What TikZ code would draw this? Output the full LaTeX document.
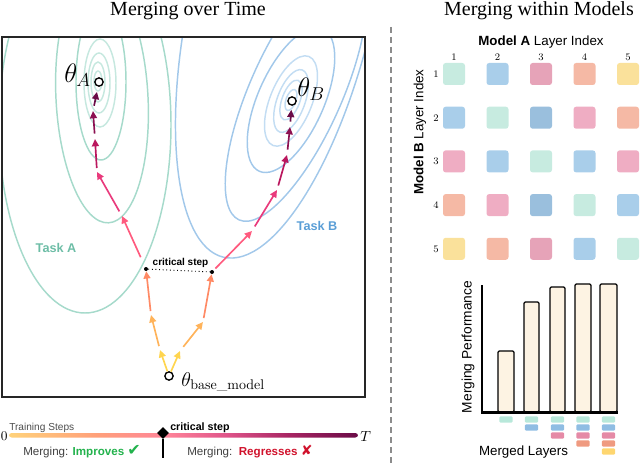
\documentclass[tikz,border=0pt]{standalone}
\usepackage{fix-cm}
\usepackage[dvipsnames]{xcolor}
\usepackage{tikz}
\usetikzlibrary{arrows.meta}
\usetikzlibrary{shapes.geometric}
\usepackage{mathtools}
\usepackage{fontspec}
\newfontfamily\titlefont{Liberation Serif}
\newfontfamily\labelfont{Liberation Sans}
\newfontfamily\symbolfont{DejaVu Sans}

\definecolor{taskA}{HTML}{A6DACB}
\definecolor{taskAlt}{HTML}{C6E8DF}
\definecolor{taskAtxt}{HTML}{6DBDA6}
\definecolor{taskB}{HTML}{A2C8EA}
\definecolor{taskBlt}{HTML}{C3DDF3}
\definecolor{taskBtxt}{HTML}{5A9ED6}
\definecolor{stepI}{HTML}{FFD54F}
\definecolor{stepII}{HTML}{FFB35A}
\definecolor{stepIII}{HTML}{FF8A65}
\definecolor{stepIV}{HTML}{FF5A7E}
\definecolor{stepV}{HTML}{E93A7C}
\definecolor{stepVI}{HTML}{BA175E}
\definecolor{stepVII}{HTML}{8C1051}
\definecolor{stepVIII}{HTML}{6A0B47}
\definecolor{cellTeal}{HTML}{C7EBE0}
\definecolor{cellBlue}{HTML}{A9CEEA}
\definecolor{cellBlueDk}{HTML}{9ABFDD}
\definecolor{cellMauve}{HTML}{E6A3B8}
\definecolor{cellPink}{HTML}{EFADC3}
\definecolor{cellSalmon}{HTML}{F5B9A5}
\definecolor{cellYellow}{HTML}{FAE19B}
\definecolor{legTeal}{HTML}{B8E8DA}
\definecolor{legBlue}{HTML}{8FBDE3}
\definecolor{legMauve}{HTML}{E58AA6}
\definecolor{legSalmon}{HTML}{EF9A80}
\definecolor{legYellow}{HTML}{FED670}
\definecolor{barfill}{HTML}{FDF3E3}
\definecolor{improvegreen}{HTML}{22B24C}
\definecolor{regressred}{HTML}{D0112B}
\definecolor{tbA}{HTML}{FFD27A}
\definecolor{tbB}{HTML}{FFA07A}
\definecolor{tbC}{HTML}{FF8499}
\definecolor{tbD}{HTML}{E0558A}
\definecolor{tbE}{HTML}{A82563}
\definecolor{tbF}{HTML}{6A0B47}
\pgfdeclarehorizontalshading{timebar}{100bp}{color(0bp)=(tbA); color(25bp)=(tbA); color(37.5bp)=(tbB); color(47.5bp)=(tbC); color(56bp)=(tbD); color(65bp)=(tbE); color(75bp)=(tbF); color(100bp)=(tbF)}

\begin{document}
\begin{tikzpicture}[x=0.75pt,y=0.75pt,yscale=-1,
    contA/.style={draw=taskA, line width=1.1pt},
    contAl/.style={draw=taskAlt, line width=1.1pt},
    contB/.style={draw=taskB, line width=1.1pt},
    contBl/.style={draw=taskBlt, line width=1.1pt},
    stepline/.style={line width=1.25pt, -{Triangle[length=5.5pt,width=5.2pt]}},
    optpt/.style={circle, draw=black, fill=white, line width=1pt, minimum size=6.2pt, inner sep=0pt},
    critdot/.style={circle, fill=black, minimum size=3pt, inner sep=0pt},
    cell/.style={rounded corners=2pt, minimum size=16.5pt, inner sep=0pt},
    legcell/.style={rounded corners=0.8pt, minimum width=9.8pt, minimum height=4.6pt, inner sep=0pt},
    bar/.style={draw=black, fill=barfill, line width=0.9pt, rounded corners=1pt},
    idxnum/.style={font=\fontsize{7.5}{9}\selectfont, inner sep=0pt}
]
    \useasboundingbox (0,0) rectangle (640,467);

    % Text Node
    \node[anchor=base, font=\titlefont\fontsize{15}{18}\selectfont] (ttlL) at (188,16) {Merging over Time};
    % Text Node
    \node[anchor=base, font=\titlefont\fontsize{15}{18}\selectfont] (ttlR) at (539,16) {Merging within Models};

    \begin{scope}
    \clip (2,37) rectangle (365,397);
    %Shape: Ellipse (Task A)
    \draw[contA] (85,125) ellipse (86 and 188);
    \draw[contA, rotate around={-3:(102,98)}] (102,98) ellipse (46 and 125);
    \draw[contA] (101,82) ellipse (25 and 78);
    \draw[contAl] (100,83) ellipse (16 and 44);
    \draw[contAl] (99,83) ellipse (11 and 30);
    \draw[contAl] (98,82) ellipse (7 and 20);
    \draw[contAl] (98,81) ellipse (4 and 10);
    %Shape: Ellipse (Task B)
    \draw[contB, rotate around={-77:(283,0)}] (283,0) ellipse (264 and 92);
    \draw[contB, rotate around={-66:(296,92)}] (296,92) ellipse (140 and 46);
    \draw[contB, rotate around={-66:(291,100)}] (291,100) ellipse (78 and 33);
    \draw[contBl, rotate around={-68:(291,101)}] (291,101) ellipse (48 and 21);
    \draw[contBl, rotate around={-70:(291,101)}] (291,101) ellipse (33 and 14);
    \draw[contBl, rotate around={-70:(291,100)}] (291,100) ellipse (21 and 9);
    \draw[contBl, rotate around={-70:(291,100)}] (291,100) ellipse (11 and 5);
    \end{scope}
    %Shape: Rectangle
    \draw[line width=1.1pt, draw=black!85] (2,37) rectangle (365,397);

    % Text Node
    \node[font=\labelfont\bfseries\fontsize{9.5}{11}\selectfont, text=taskAtxt] (taskAlbl) at (56,248) {Task A};
    % Text Node
    \node[font=\labelfont\bfseries\fontsize{9.5}{11}\selectfont, text=taskBtxt] (taskBlbl) at (317,226) {Task B};

    % optima and path points
    \node[optpt] (base) at (169,376) {};
    \node[optpt] (thA) at (99,82) {};
    \node[optpt] (thB) at (292,101) {};
    \coordinate (a1) at (160,350);
    \coordinate (a2) at (151,315);
    \node[critdot] (critA) at (146,269) {};
    \coordinate (a4) at (122,216);
    \coordinate (a5) at (97,172);
    \coordinate (a6) at (95,139);
    \coordinate (a7) at (93,111);
    \coordinate (b1) at (180,351);
    \coordinate (b2) at (203,322);
    \node[critdot] (critB) at (212,272) {};
    \coordinate (b4) at (252,231);
    \coordinate (b5) at (277,190);
    \coordinate (b6) at (287,155);
    \coordinate (b7) at (290,127);

    %Straight Lines (towards Task A)
    \draw[stepline, stepI] (base) -- (a1);
    \draw[stepline, stepII, shorten <=3pt] (a1) -- (a2);
    \draw[stepline, stepIII, shorten <=3pt] (a2) -- (critA);
    \draw[stepline, stepIV, shorten <=8pt] (critA) -- (a4);
    \draw[stepline, stepV, shorten <=4pt] (a4) -- (a5);
    \draw[stepline, stepVI, shorten <=3pt] (a5) -- (a6);
    \draw[stepline, stepVII, shorten <=4pt] (a6) -- (a7);
    \draw[stepline, stepVIII, shorten <=4pt, shorten >=4pt] (a7) -- (thA);
    %Straight Lines (towards Task B)
    \draw[stepline, stepI] (base) -- (b1);
    \draw[stepline, stepII, shorten <=4pt] (b1) -- (b2);
    \draw[stepline, stepIII, shorten <=3pt] (b2) -- (critB);
    \draw[stepline, stepIV, shorten <=2pt] (critB) -- (b4);
    \draw[stepline, stepV, shorten <=4pt] (b4) -- (b5);
    \draw[stepline, stepVI, shorten <=3.5pt] (b5) -- (b6);
    \draw[stepline, stepVII, shorten <=4pt] (b6) -- (b7);
    \draw[stepline, stepVIII, shorten <=4pt, shorten >=3pt] (b7) -- (thB);
    %Straight Lines
    \draw[dotted, line width=0.7pt] (critA) -- (critB);

    % Text Node
    \node[anchor=base, inner sep=0pt, font=\labelfont\bfseries\fontsize{7.5}{9}\selectfont] (critlbl) at (180.5,266) {critical step};
    % Text Node
    \node[anchor=base west, inner sep=0pt, font=\fontsize{20}{24}\selectfont] (labA) at (64,83) {$\theta_A$};
    % Text Node
    \node[anchor=base west, inner sep=0pt, font=\fontsize{20}{24}\selectfont] (labB) at (297,97) {$\theta_B$};
    % Text Node
    \node[anchor=base west, inner sep=0pt, font=\fontsize{15}{18}\selectfont] (labBase) at (181,386) {$\theta_{\text{base\_model}}$};

    %Shape: Time bar
    \shade[shading=timebar, rounded corners=2pt] (9,433) rectangle (358,437.5);
    % Text Node
    \node[anchor=west, inner sep=0pt, font=\fontsize{10}{12}\selectfont] (tzero) at (0.5,436) {0};
    % Text Node
    \node[anchor=west, inner sep=0pt, font=\fontsize{11}{13}\selectfont] (tend) at (360,436) {$T$};
    \node[diamond, fill=black, inner sep=0pt, minimum width=9pt, minimum height=9pt] (critmark) at (163,433) {};
    \coordinate (stemend) at (163,458);
    \draw[line width=1.8pt] (critmark.south) -- (stemend);
    % Text Node
    \node[anchor=base west, inner sep=0pt, font=\labelfont\fontsize{7.6}{9}\selectfont, text=black!70] (tsteps) at (9,430) {Training Steps};
    % Text Node
    \node[anchor=base west, inner sep=0pt, font=\labelfont\bfseries\fontsize{8}{9}\selectfont] (critlblT) at (170,430) {critical step};
    % Text Node
    \node[anchor=base west, inner sep=0pt, font=\labelfont\fontsize{8.7}{10}\selectfont, text=black!75] (improve) at (23,455) {Merging: \textcolor{improvegreen}{\bfseries Improves} {\symbolfont\fontsize{12}{12}\selectfont\textcolor{improvegreen}{✔}}};
    % Text Node
    \node[anchor=base west, inner sep=0pt, font=\labelfont\fontsize{8.7}{10}\selectfont, text=black!75] (regress) at (187,455) {Merging:\ \ \textcolor{regressred}{\bfseries Regresses} {\symbolfont\fontsize{10.5}{10}\selectfont\textcolor{regressred}{✘}}};

    %Straight Lines
    \coordinate (sepTop) at (391,27);
    \coordinate (sepBot) at (391,464);
    \draw[draw=black!45, dash pattern=on 4.5pt off 3pt, line width=0.9pt] (sepTop) -- (sepBot);

    % Text Node
    \node[anchor=base, font=\labelfont\fontsize{10}{12}\selectfont] (axA) at (541,46) {\textbf{Model A} Layer Index};
    % Text Node
    \node[rotate=90, font=\labelfont\fontsize{10}{12}\selectfont] (axB) at (420,132) {\textbf{Model B} Layer Index};

    % column and row indices
    \node[idxnum] (colI) at (454,57) {1};
    \node[idxnum] (colII) at (497.5,57) {2};
    \node[idxnum] (colIII) at (541,57) {3};
    \node[idxnum] (colIV) at (584.5,57) {4};
    \node[idxnum] (colV) at (628,57) {5};
    \node[idxnum] (rowI) at (436,74) {1};
    \node[idxnum] (rowII) at (436,117.7) {2};
    \node[idxnum] (rowIII) at (436,161.4) {3};
    \node[idxnum] (rowIV) at (436,205.1) {4};
    \node[idxnum] (rowV) at (436,248.8) {5};

    % layer cells
    \node[cell, fill=cellTeal] (c11) at (454,74) {};
    \node[cell, fill=cellBlue] (c12) at (497.5,74) {};
    \node[cell, fill=cellMauve] (c13) at (541,74) {};
    \node[cell, fill=cellSalmon] (c14) at (584.5,74) {};
    \node[cell, fill=cellYellow] (c15) at (628,74) {};
    \node[cell, fill=cellBlue] (c21) at (454,117.7) {};
    \node[cell, fill=cellTeal] (c22) at (497.5,117.7) {};
    \node[cell, fill=cellBlueDk] (c23) at (541,117.7) {};
    \node[cell, fill=cellPink] (c24) at (584.5,117.7) {};
    \node[cell, fill=cellSalmon] (c25) at (628,117.7) {};
    \node[cell, fill=cellPink] (c31) at (454,161.4) {};
    \node[cell, fill=cellBlue] (c32) at (497.5,161.4) {};
    \node[cell, fill=cellTeal] (c33) at (541,161.4) {};
    \node[cell, fill=cellBlue] (c34) at (584.5,161.4) {};
    \node[cell, fill=cellPink] (c35) at (628,161.4) {};
    \node[cell, fill=cellSalmon] (c41) at (454,205.1) {};
    \node[cell, fill=cellPink] (c42) at (497.5,205.1) {};
    \node[cell, fill=cellBlueDk] (c43) at (541,205.1) {};
    \node[cell, fill=cellTeal] (c44) at (584.5,205.1) {};
    \node[cell, fill=cellBlue] (c45) at (628,205.1) {};
    \node[cell, fill=cellYellow] (c51) at (454,248.8) {};
    \node[cell, fill=cellSalmon] (c52) at (497.5,248.8) {};
    \node[cell, fill=cellMauve] (c53) at (541,248.8) {};
    \node[cell, fill=cellBlue] (c54) at (584.5,248.8) {};
    \node[cell, fill=cellTeal] (c55) at (628,248.8) {};

    %Shape: Bars
    \draw[bar] (498,412) rectangle (514,351);
    \draw[bar] (524,412) rectangle (539,302);
    \draw[bar] (550,412) rectangle (565,287);
    \draw[bar] (575,412) rectangle (591,284);
    \draw[bar] (600,412) rectangle (617,284);
    %Shape: Axes
    \draw[line width=1.6pt] (482,285) -- (482,412.5) -- (618,412.5);
    % Text Node
    \node[rotate=90, font=\labelfont\fontsize{10.3}{12}\selectfont] (perf) at (468,347) {Merging Performance};
    % Text Node
    \node[font=\labelfont\fontsize{10}{12}\selectfont] (merged) at (523.5,452) {Merged Layers};

    % merged layer legend
    \node[legcell, fill=legTeal] (m11) at (506,419.5) {};
    \node[legcell, fill=legTeal] (m21) at (531.5,419.5) {};
    \node[legcell, fill=legBlue] (m22) at (531.5,427.5) {};
    \node[legcell, fill=legTeal] (m31) at (557.5,419.5) {};
    \node[legcell, fill=legBlue] (m32) at (557.5,427.5) {};
    \node[legcell, fill=legMauve] (m33) at (557.5,435.5) {};
    \node[legcell, fill=legTeal] (m41) at (583,419.5) {};
    \node[legcell, fill=legBlue] (m42) at (583,427.5) {};
    \node[legcell, fill=legMauve] (m43) at (583,435.5) {};
    \node[legcell, fill=legSalmon] (m44) at (583,443.5) {};
    \node[legcell, fill=legTeal] (m51) at (608.5,419.5) {};
    \node[legcell, fill=legBlue] (m52) at (608.5,427.5) {};
    \node[legcell, fill=legMauve] (m53) at (608.5,435.5) {};
    \node[legcell, fill=legSalmon] (m54) at (608.5,443.5) {};
    \node[legcell, fill=legYellow] (m55) at (608.5,451.5) {};
\end{tikzpicture}
\end{document}
